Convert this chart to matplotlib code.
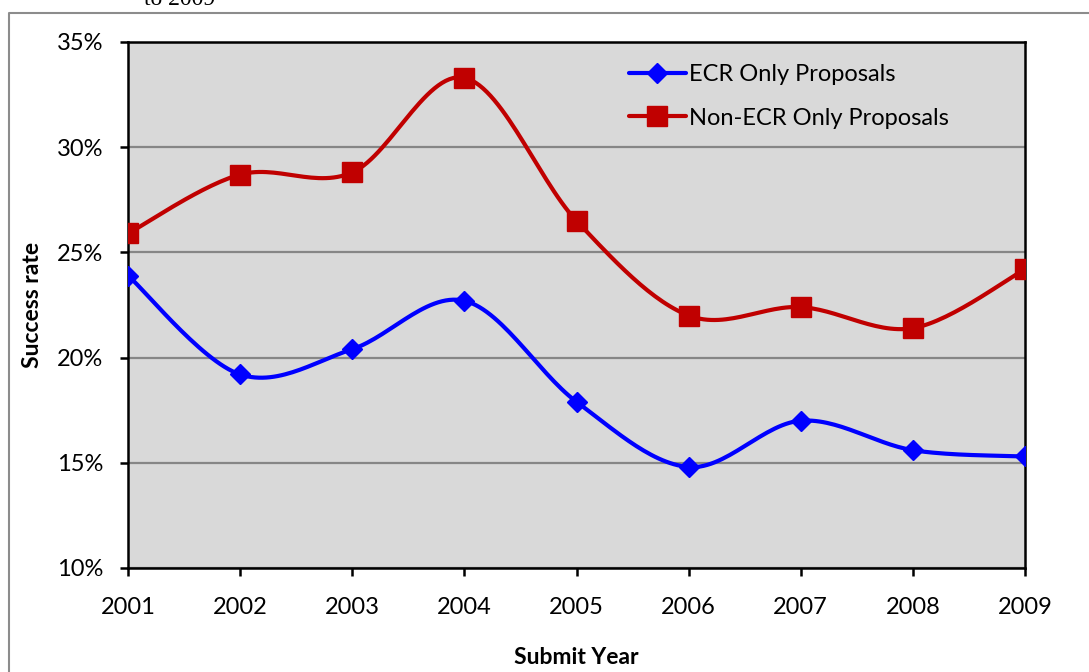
import matplotlib
matplotlib.use("Agg")
import matplotlib.pyplot as plt
import numpy as np
from matplotlib.lines import Line2D
from matplotlib.ticker import FuncFormatter

years = [2001, 2002, 2003, 2004, 2005, 2006, 2007, 2008, 2009]
ecr_only = [23.9, 19.2, 20.4, 22.7, 17.9, 14.8, 17.0, 15.6, 15.3]
non_ecr_only = [25.9, 28.7, 28.8, 33.3, 26.5, 22.0, 22.4, 21.4, 24.2]
series_names = ["ECR Only Proposals", "Non-ECR Only Proposals"]

plt.rcParams['font.family'] = ['Lato', 'DejaVu Sans']


def smooth(x, y, steps=30):
    # cubic bezier segments with catmull-rom control points (spreadsheet style smoothing)
    x = np.asarray(x, float)
    y = np.asarray(y, float)
    px = np.concatenate([[x[0]], x, [x[-1]]])
    py = np.concatenate([[y[0]], y, [y[-1]]])
    t = np.linspace(0, 1, steps, endpoint=False)[:, None]
    xs, ys = [], []
    for i in range(len(x) - 1):
        p0 = np.array([px[i + 1], py[i + 1]])
        p3 = np.array([px[i + 2], py[i + 2]])
        c1 = p0 + (p3 - np.array([px[i], py[i]])) / 6
        c2 = p3 - (np.array([px[i + 3], py[i + 3]]) - p0) / 6
        b = ((1 - t) ** 3) * p0 + 3 * ((1 - t) ** 2) * t * c1 + 3 * (1 - t) * t ** 2 * c2 + t ** 3 * p3
        xs.append(b[:, 0])
        ys.append(b[:, 1])
    xs.append([x[-1]])
    ys.append([y[-1]])
    return np.concatenate(xs), np.concatenate(ys), list(range(0, steps * len(x), steps))


fig = plt.figure(figsize=(10.89, 6.72), dpi=100)
ax = fig.add_axes([128 / 1089, 1 - 568 / 672, 897 / 1089, 526 / 672])
ax.set_facecolor('#d9d9d9')

sx, sy, idx = smooth(years, ecr_only)
ax.plot(sx, sy, color='#0000ff', lw=3.0, marker='D', ms=10.5, markevery=idx,
        label=series_names[0], solid_capstyle='round', zorder=3)
sx, sy, idx = smooth(years, non_ecr_only)
ax.plot(sx, sy, color='#c00000', lw=3.0, marker='s', ms=14, markevery=idx,
        label=series_names[1], solid_capstyle='round', zorder=3)

ax.set_xlim(2001, 2009)
ax.set_ylim(10, 35)
ax.set_xticks(years)
ax.set_yticks(np.arange(10, 36, 5))
ax.yaxis.set_major_formatter(FuncFormatter(lambda v, p: f"{v:.0f}%"))
ax.grid(axis='y', color='#868686', lw=1.6, zorder=1)
ax.set_axisbelow(True)
for s in ax.spines.values():
    s.set_linewidth(1.8)
    s.set_color('black')
ax.tick_params(axis='both', length=6, width=1.8, labelsize=17, colors='black')
ax.tick_params(axis='x', pad=15)
ax.tick_params(axis='y', pad=12)
ax.set_xlabel("Submit Year", fontsize=16.5, fontweight='bold', labelpad=21)
ax.set_ylabel("Success rate", fontsize=16.5, fontweight='bold', labelpad=10)

ax.legend(loc='upper left', bbox_to_anchor=(0.535, 0.998), frameon=False, fontsize=17,
          handlelength=2.4, handletextpad=0.12, labelspacing=0.95)

# outer chart border and clipped caption above it
fig.add_artist(Line2D([9 / 1089, 9 / 1089, 1.0], [0, 1 - 13 / 672, 1 - 13 / 672],
                      transform=fig.transFigure, color='#8c8c8c', lw=1.5))
fig.text(180 / 1089, 1 - 5 / 672, "to 2009", ha='center', va='baseline',
         family='Liberation Serif', fontsize=17)

fig.savefig("out.png", dpi=100)
